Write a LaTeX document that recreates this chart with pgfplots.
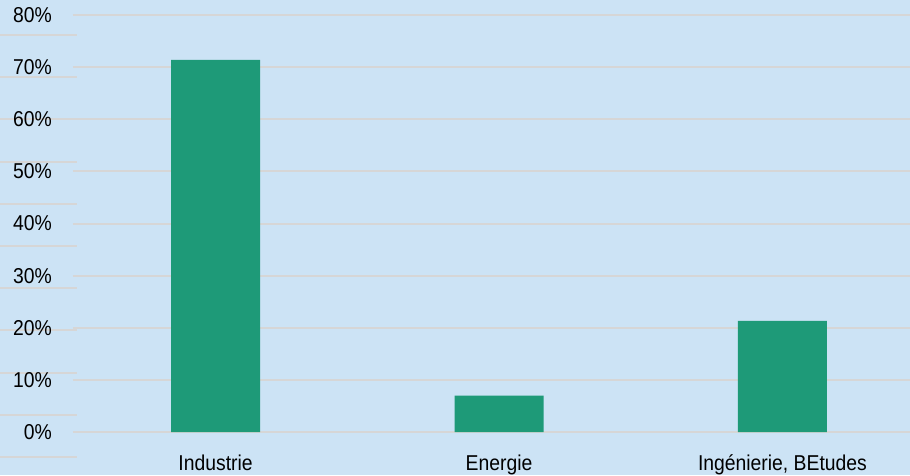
\documentclass[border=0pt]{standalone}
\usepackage{pgfplots}
\pgfplotsset{compat=1.18}
\usepackage{fontspec}
\setmainfont{Liberation Sans}
\newfontfamily\narrowfont[FakeStretch=0.9]{Liberation Sans}

\definecolor{bgblue}{HTML}{CCE3F5}
\definecolor{bargreen}{HTML}{1E9A78}
\definecolor{gridgray}{HTML}{D6D6D6}

\begin{document}
\begin{tikzpicture}
\fill[bgblue] (0pt,0pt) rectangle (910pt,475pt);

% short stray rules at the left edge
\begin{axis}[
  at={(0pt,18pt)}, anchor=south west,
  scale only axis, width=77pt, height=422pt,
  xmin=0, xmax=1, ymin=0, ymax=10,
  axis line style={draw=none},
  ytick={0,...,10}, xtick=\empty,
  major tick length=0pt,
  ymajorgrids, grid style={gridgray, line width=2pt},
  yticklabels={}, clip=false,
]
\addplot[draw=none] coordinates {(0,0)};
\end{axis}

\begin{axis}[
  at={(73pt,43pt)}, anchor=south west,
  scale only axis, width=837pt, height=417pt,
  ybar, bar width=89pt,
  xmin=-0.503, xmax=2.45,
  ymin=0, ymax=80,
  axis line style={draw=none},
  xtick=data,
  xticklabels={Industrie, Energie, {Ingénierie, BEtudes}},
  ytick={0,10,...,80},
  yticklabel={\pgfmathprintnumber{\tick}\%},
  /pgf/number format/assume math mode=true,
  major tick length=0pt,
  ymajorgrids, grid style={gridgray, line width=2pt},
  yticklabel style={anchor=east, inner sep=0pt, xshift=-21pt,
    font=\narrowfont\fontsize{21.5}{24}\selectfont},
  xticklabel style={anchor=base, inner sep=0pt, yshift=-38pt,
    font=\narrowfont\fontsize{21.5}{24}\selectfont},
  clip=false,
]
\addplot[fill=bargreen, draw=none] coordinates {(0,71.4) (1,7.0) (2,21.3)};
\end{axis}
\pgfresetboundingbox
\path[use as bounding box] (0pt,0pt) rectangle (910pt,475pt);
\end{tikzpicture}
\end{document}
